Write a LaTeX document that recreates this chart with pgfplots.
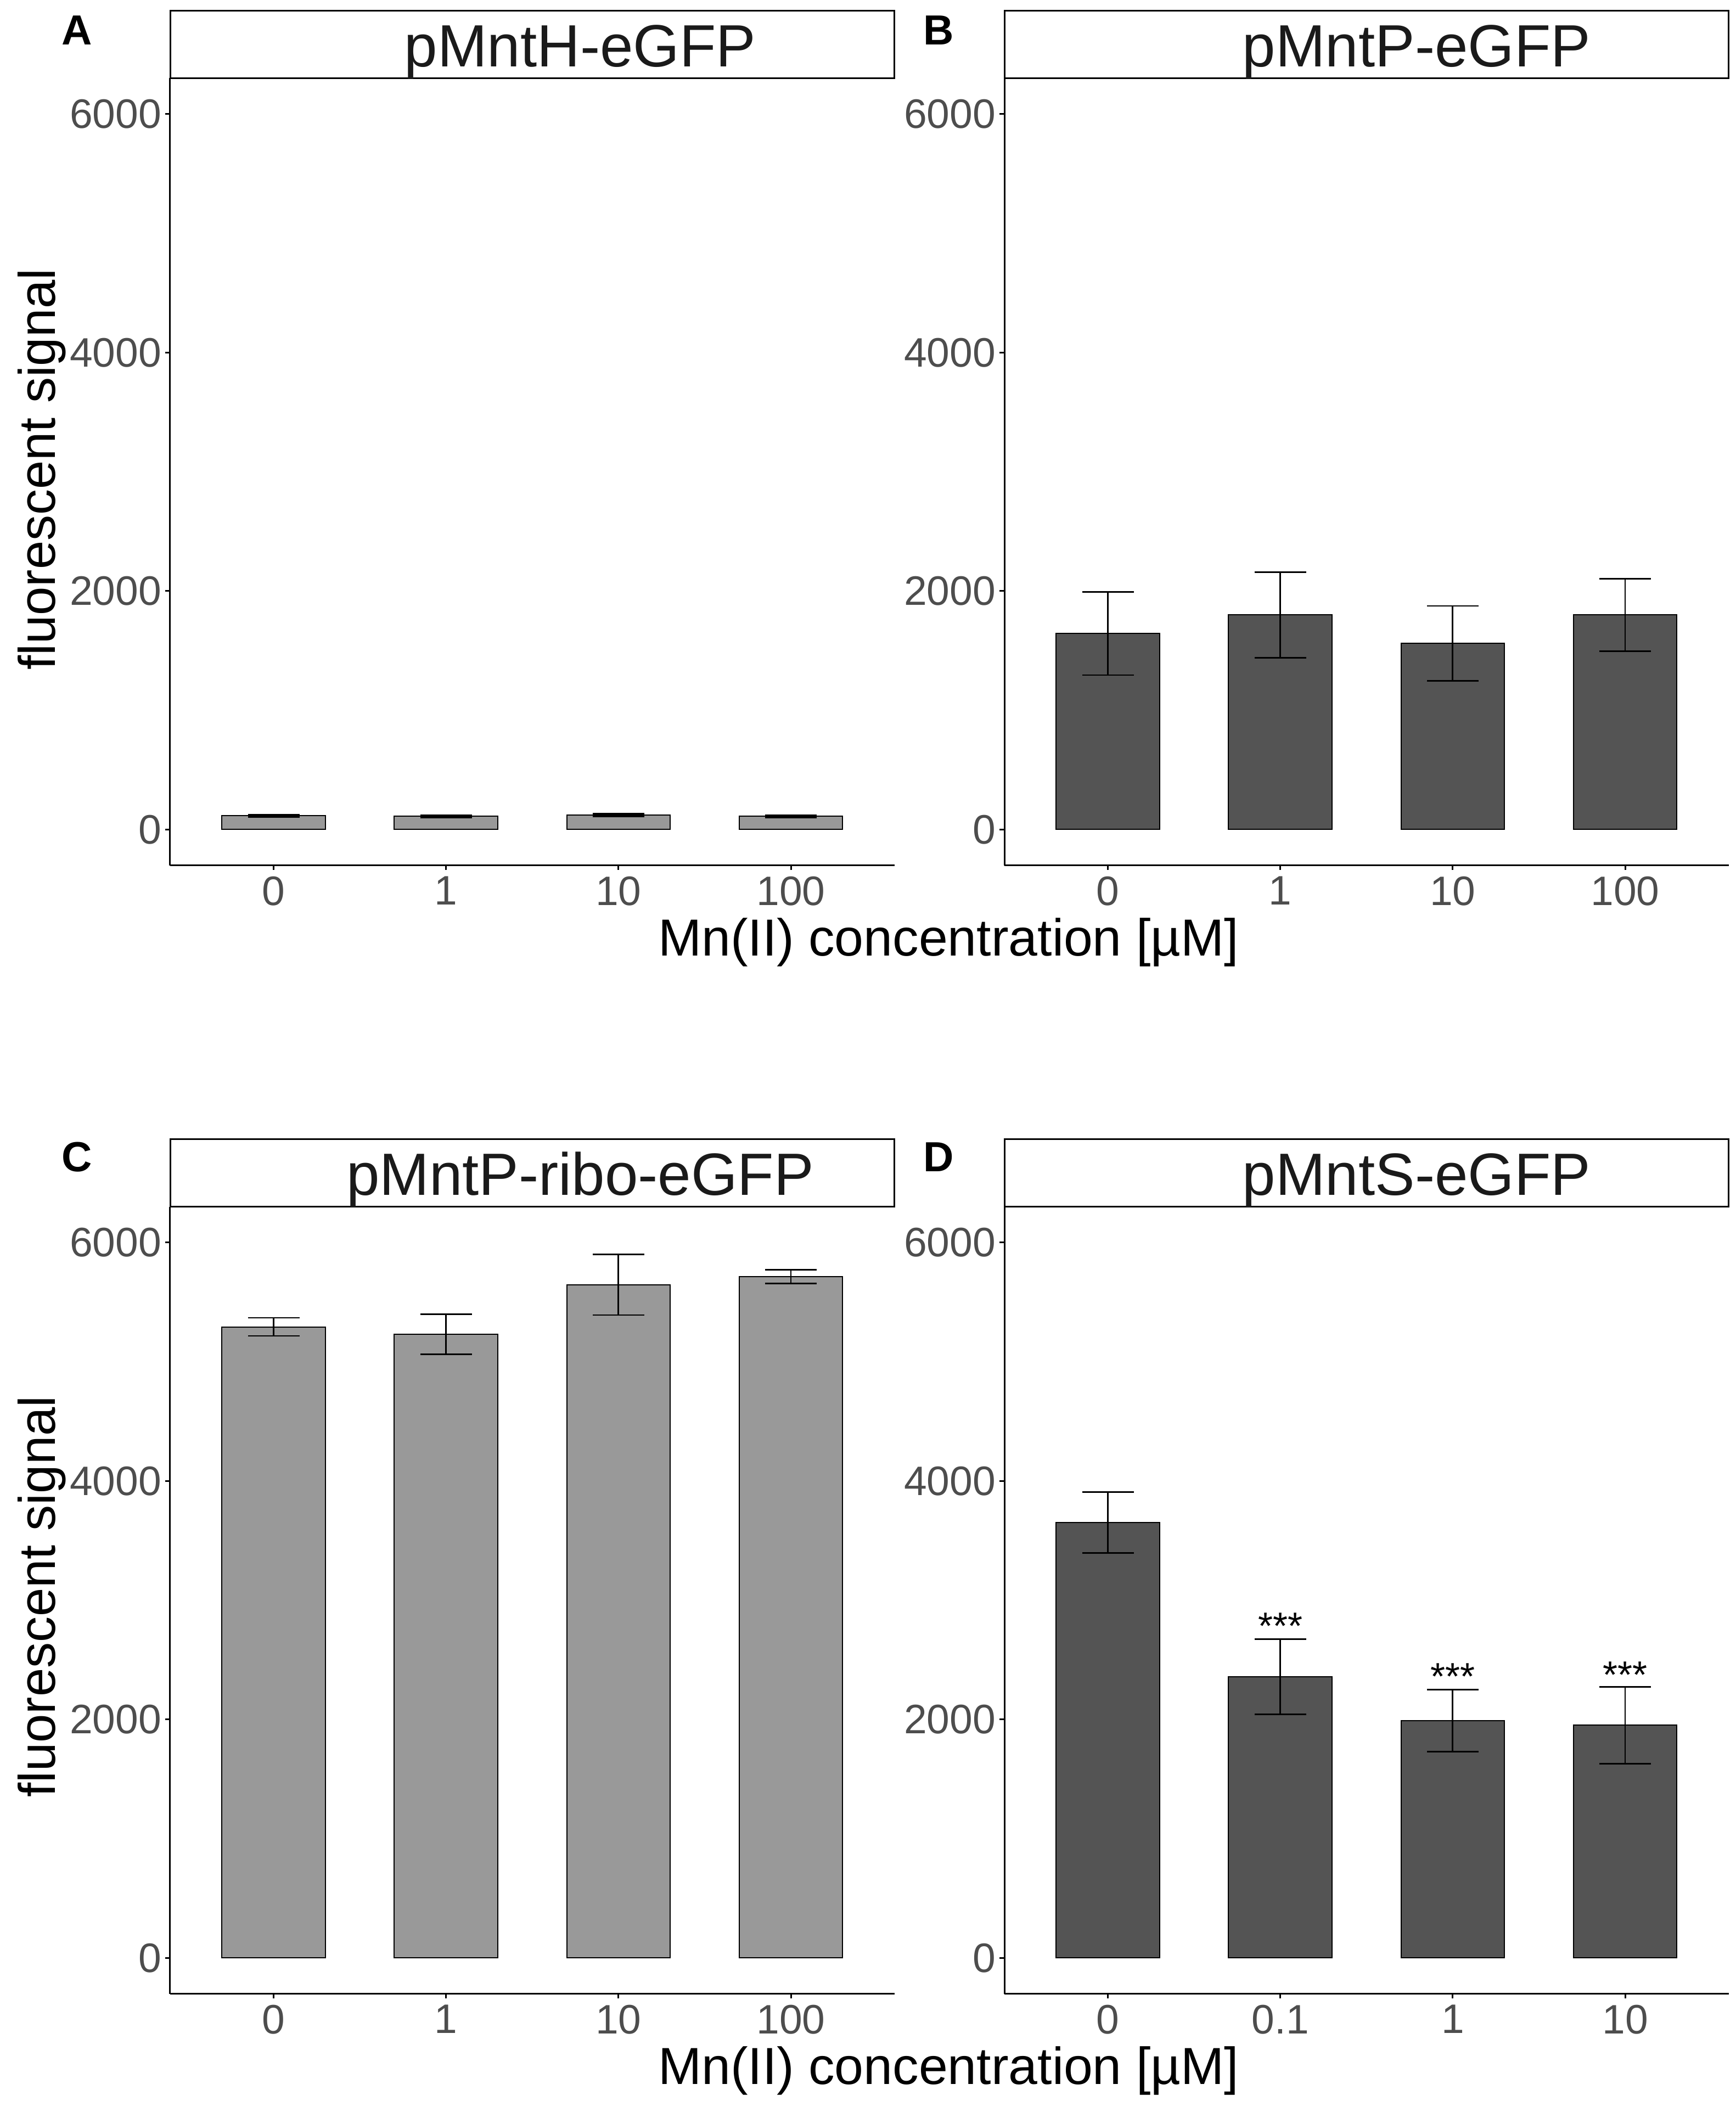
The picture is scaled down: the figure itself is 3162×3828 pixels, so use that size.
\documentclass[border=0pt]{standalone}
\usepackage{pgfplots}
\pgfplotsset{compat=1.18}
\usepackage{fontspec}
\setmainfont{Liberation Sans}
\definecolor{barlight}{HTML}{999999}
\definecolor{bardark}{HTML}{545454}
\definecolor{ticklab}{HTML}{4D4D4D}
\definecolor{striptext}{HTML}{1A1A1A}

\pgfplotsset{
  panel/.style={
    scale only axis, width=197.925pt, height=215.1pt,
    xmin=0.4, xmax=4.6, ymin=-300, ymax=6300,
    axis lines*=left, axis line style={line width=0.45pt, black},
    tick align=outside, major tick length=1.3pt,
    tick style={line width=0.45pt, black},
    xtick={1,2,3,4}, ytick={0,2000,4000,6000}, yticklabels={0,2000,4000,6000},
    ticklabel style={font=\fontsize{11.25}{13}\selectfont, text=ticklab},
    yticklabel style={inner sep=0pt, xshift=-0.9pt},
    xticklabel style={inner sep=0pt, yshift=-1.6pt},
    clip=false, anchor=south west,
  },
  bars/.style={ybar, bar width=0.6, bar shift=0pt, draw=black, line width=0.3pt, fill=#1,
    error bars/.cd, y dir=both, y explicit,
    error bar style={line width=0.42pt, black},
    error mark options={rotate=90, mark size=7.05pt, line width=0.42pt, black}},
}

\begin{document}
\begin{tikzpicture}
\begin{scope}[x=0.15pt,y=-0.15pt]
\useasboundingbox (0,0) rectangle (3162,3828);
\coordinate (PA) at (310,1576.5);
\coordinate (PB) at (1830,1576.5);
\coordinate (PC) at (310,3632.5);
\coordinate (PD) at (1830,3632.5);
\end{scope}

% Panel A
\begin{axis}[panel, at={(PA)}, xticklabels={0,1,10,100}]
\addplot[bars=barlight] coordinates {
 (1,115) +- (0,10)
 (2,110) +- (0,8)
 (3,120) +- (0,12)
 (4,110) +- (0,8)
};
\end{axis}

% Panel B
\begin{axis}[panel, at={(PB)}, xticklabels={0,1,10,100}]
\addplot[bars=bardark] coordinates {
 (1,1644) +- (0,349)
 (2,1799) +- (0,360)
 (3,1560) +- (0,315)
 (4,1799) +- (0,303)
};
\end{axis}

% Panel C
\begin{axis}[panel, at={(PC)}, xticklabels={0,1,10,100}]
\addplot[bars=barlight] coordinates {
 (1,5292) +- (0,76)
 (2,5229) +- (0,168)
 (3,5645) +- (0,254)
 (4,5713) +- (0,56)
};
\end{axis}

% Panel D
\begin{axis}[panel, at={(PD)}, xticklabels={0,0.1,1,10}]
\addplot[bars=bardark] coordinates {
 (1,3652) +- (0,255)
 (2,2358) +- (0,314)
 (3,1991) +- (0,260)
 (4,1952) +- (0,322)
};
\node[anchor=base, inner sep=0pt, font=\fontsize{10.4}{12}\selectfont] at (axis cs:2,2672) {***};
\node[anchor=base, inner sep=0pt, font=\fontsize{10.4}{12}\selectfont] at (axis cs:3,2251) {***};
\node[anchor=base, inner sep=0pt, font=\fontsize{10.4}{12}\selectfont] at (axis cs:4,2262) {***};
\end{axis}

\begin{scope}[x=0.15pt,y=-0.15pt]
% strips
\draw[line width=0.45pt, fill=white] (310,19.5) rectangle (1629.5,143);
\draw[line width=0.45pt, fill=white] (1830,19.5) rectangle (3149.5,143);
\draw[line width=0.45pt, fill=white] (310,2075.5) rectangle (1629.5,2198.5);
\draw[line width=0.45pt, fill=white] (1830,2075.5) rectangle (3149.5,2198.5);
\tikzset{strip/.style={anchor=base, inner sep=0pt, text=striptext, font=\fontsize{16.3}{18}\selectfont}}
\node[strip] at (1057,122) {pMntH-eGFP};
\node[strip] at (2581,122) {pMntP-eGFP};
\node[strip] at (1057,2177) {pMntP-ribo-eGFP};
\node[strip] at (2581,2177) {pMntS-eGFP};
% panel letters
\tikzset{letter/.style={anchor=base, inner sep=0pt, font=\fontsize{11.5}{13}\selectfont\bfseries}}
\node[letter] at (140,82) {A};
\node[letter] at (1710,82) {B};
\node[letter] at (140,2134) {C};
\node[letter] at (1710,2134) {D};
% axis titles
\tikzset{atitle/.style={anchor=base, inner sep=0pt, font=\fontsize{14.1}{16}\selectfont}}
\node[atitle, rotate=90] at (100,855) {fluorescent signal};
\node[atitle, rotate=90] at (100,2909) {fluorescent signal};
\node[atitle, font=\fontsize{14.25}{16}\selectfont] at (1728,1741.5) {Mn(II) concentration [µM]};
\node[atitle, font=\fontsize{14.25}{16}\selectfont] at (1728,3797) {Mn(II) concentration [µM]};
\end{scope}
\end{tikzpicture}
\end{document}
